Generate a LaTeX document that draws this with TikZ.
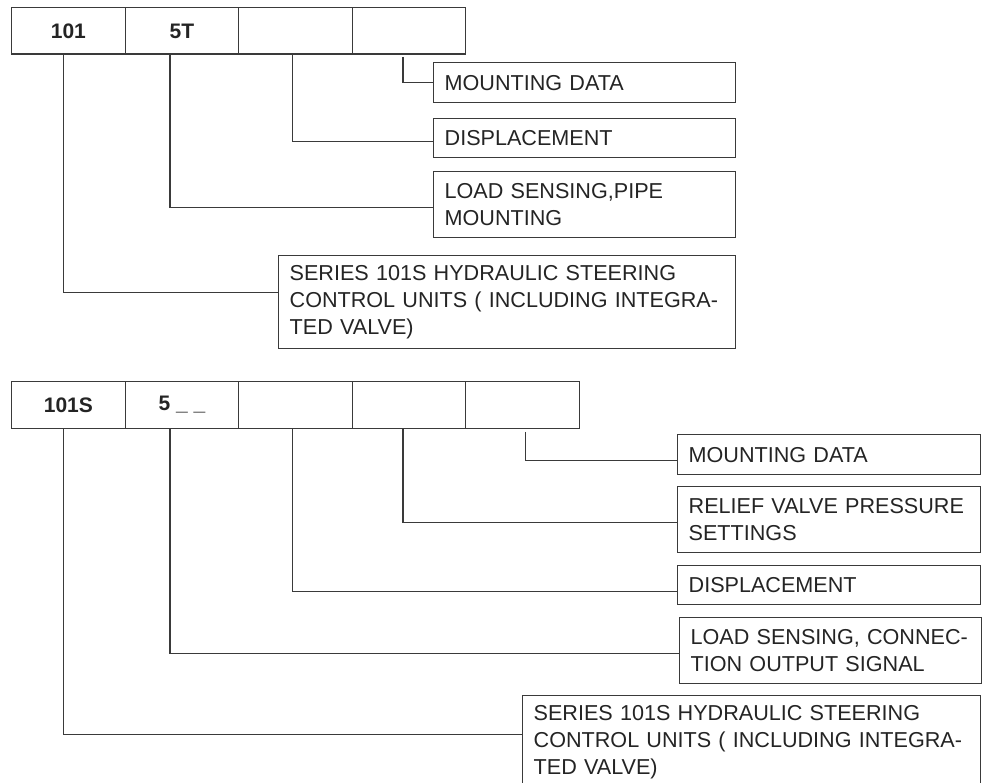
\documentclass[tikz,border=0pt]{standalone}
\usepackage{fontspec}
\setmainfont{Liberation Sans}
\definecolor{linec}{HTML}{3A3A3A}
\definecolor{textc}{HTML}{242424}
\tikzset{
  cell/.style={draw=linec, line width=1.3pt, anchor=north west, inner sep=0pt,
    minimum width=113.5pt, minimum height=46.5pt, text=textc,
    font=\bfseries\fontsize{21}{25}\selectfont},
  lbl/.style={draw=linec, line width=1.3pt, anchor=north west, align=left,
    inner xsep=11pt, inner ysep=2pt, text=textc,
    font=\fontsize{21.6}{27}\selectfont},
  lead/.style={draw=linec, line width=1.3pt}
}
\begin{document}
\begin{tikzpicture}[x=1pt,y=-1pt]
\useasboundingbox (0,0) rectangle (987,783);

% upper code
\node[cell] (t1) at (11,7) {101};
\node[cell] (t2) at (124.5,7) {5T};
\node[cell] (t3) at (238,7) {};
\node[cell] (t4) at (351.5,7) {};

\node[lbl, text width=280pt, minimum height=40pt] (tl1) at (433,62) {MOUNTING DATA};
\node[lbl, text width=280pt, minimum height=39pt] (tl2) at (433,118) {DISPLACEMENT};
\node[lbl, text width=280pt, minimum height=66pt] (tl3) at (433,171) {LOAD SENSING,PIPE\\MOUNTING};
\node[lbl, text width=435pt, minimum height=93pt] (tl4) at (278,255)
  {SERIES 101S HYDRAULIC STEERING\\CONTROL UNITS ( INCLUDING INTEGRA-\\TED VALVE)};

\draw[lead] ([xshift=-6pt,yshift=-2pt]t4.south) |- (tl1.west);
\draw[lead] ([xshift=-3pt]t3.south) |- ([yshift=-3.5pt]tl2.west);
\draw[lead] ([xshift=-12pt]t2.south) |- ([yshift=-3pt]tl3.west);
\draw[lead] ([xshift=-5pt]t1.south) |- ([yshift=9.5pt]tl4.west);

% lower code
\node[cell] (s1) at (11,381) {101S};
\node[cell] (s2) at (124.5,381) {5 \_ \_};
\node[cell] (s3) at (238,381) {};
\node[cell] (s4) at (351.5,381) {};
\node[cell] (s5) at (465,381) {};

\node[lbl, text width=281pt, minimum height=40pt] (sl1) at (677,434) {MOUNTING DATA};
\node[lbl, text width=281pt, minimum height=66pt] (sl2) at (677,486) {RELIEF VALVE PRESSURE\\SETTINGS};
\node[lbl, text width=281pt, minimum height=39pt] (sl3) at (677,565) {DISPLACEMENT};
\node[lbl, text width=280pt, minimum height=66pt] (sl4) at (679,617) {LOAD SENSING, CONNEC-\\TION OUTPUT SIGNAL};
\node[lbl, text width=436pt, minimum height=93pt] (sl5) at (522,695)
  {SERIES 101S HYDRAULIC STEERING\\CONTROL UNITS ( INCLUDING INTEGRA-\\TED VALVE)};

\draw[lead] ([xshift=3pt,yshift=-3pt]s5.south) |- ([yshift=-6pt]sl1.west);
\draw[lead] ([xshift=-6pt]s4.south) |- ([yshift=-3pt]sl2.west);
\draw[lead] ([xshift=-3pt]s3.south) |- ([yshift=-6.5pt]sl3.west);
\draw[lead] ([xshift=-12pt]s2.south) |- ([yshift=-3pt]sl4.west);
\draw[lead] ([xshift=-5pt]s1.south) |- ([yshift=7.5pt]sl5.west);
\end{tikzpicture}
\end{document}
